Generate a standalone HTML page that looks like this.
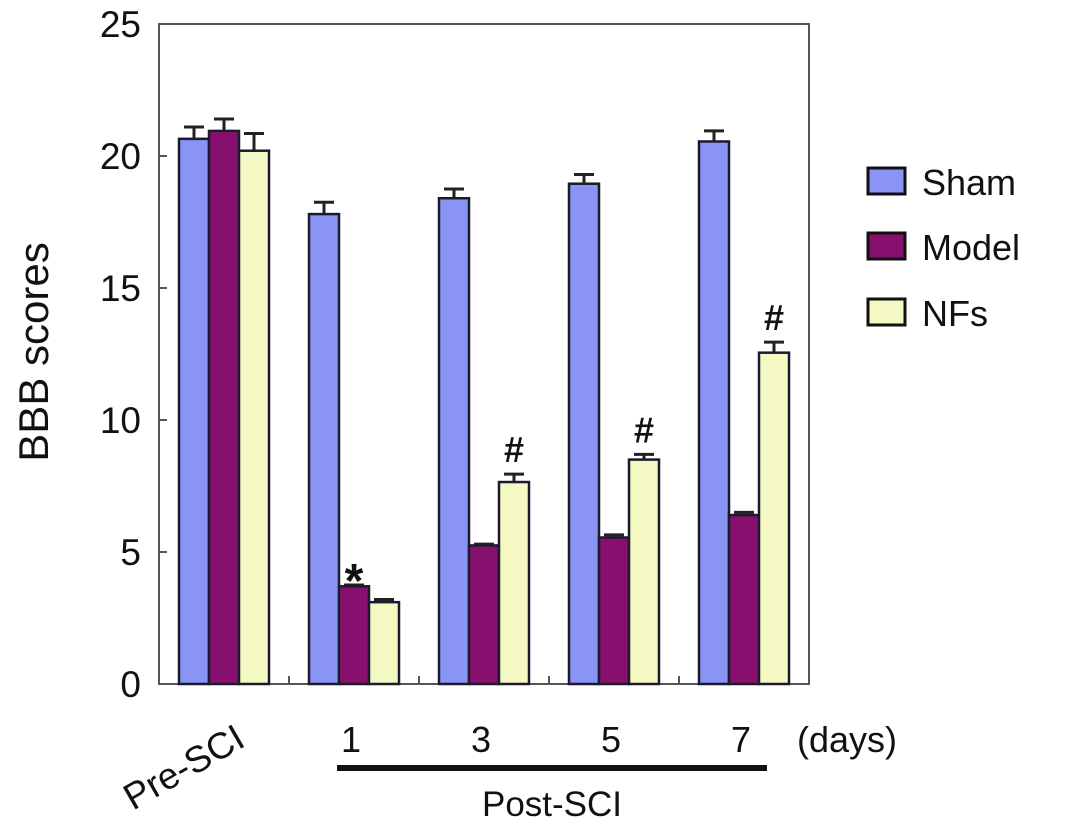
<!DOCTYPE html>
<html><head><meta charset="utf-8"><style>
html,body{margin:0;background:#fff;overflow:hidden;width:1087px;height:828px;}
svg text{font-family:"Liberation Sans",Arial,sans-serif;fill:#111;}
</style></head><body>
<svg id="chart" width="1087" height="828" style="position:absolute;left:0;top:0"></svg>
<script>
const categories=["Pre-SCI","1","3","5","7"];
const shamVals=[20.65,17.8,18.4,18.95,20.55];
const shamErr=[0.45,0.45,0.35,0.35,0.4];
const modelVals=[20.95,3.7,5.25,5.55,6.4];
const modelErr=[0.45,0.05,0.05,0.1,0.1];
const nfVals=[20.2,3.1,7.65,8.5,12.55];
const nfErr=[0.65,0.1,0.3,0.2,0.4];
const yTicks=[0,5,10,15,20,25];
const marks=["","*","#","#","#"];
const markSeries=[null,1,2,2,2];

const svg=document.getElementById('chart');
const NS='http://www.w3.org/2000/svg';
const L=159,R=809,T=24,B=684,ymax=25;
const y=v=>B-(B-T)*v/ymax;
const gw=(R-L)/categories.length;
const bw=30;
const xBar=(g,s)=>L+gw*g+20+bw*s;
function el(tag,attrs,parent){const e=document.createElementNS(NS,tag);for(const k in attrs)e.setAttribute(k,attrs[k]);(parent||svg).appendChild(e);return e;}

let a=el('path',{d:`M${L},${T} H${R} V${B} H${L} Z`,fill:'none',stroke:'#555','stroke-width':2});


yTicks.forEach(t=>{
  const tk=el('line',{x1:L,x2:L+8,y1:y(t),y2:y(t),stroke:'#555','stroke-width':2});
  
  
  const tx=el('text',{x:141,y:y(t)+13,'text-anchor':'end','font-size':37});
  tx.textContent=t;
  
  
});
for(let g=1;g<categories.length;g++){
  const tk=el('line',{x1:L+gw*g,x2:L+gw*g,y1:B,y2:B-8,stroke:'#555','stroke-width':2});
  
  
}
const series=[[shamVals,shamErr,'#8a94f5','sham'],[modelVals,modelErr,'#87106f','model'],[nfVals,nfErr,'#f4f8c2','nfs']];
categories.forEach((c,g)=>{
  series.forEach(([vals,errs,col,nm],s)=>{
    const x0=xBar(g,s),v=vals[g],e=errs[g];
    const ex=x0+bw/2;
    const eb=el('path',{d:`M${ex},${y(v)} V${y(v+e)} M${ex-10},${y(v+e)} H${ex+10}`,stroke:'#222','stroke-width':3,fill:'none'});
    
    
    const r=el('rect',{x:x0,y:y(v),width:bw,height:B-y(v),fill:col,stroke:'#1b1b2e','stroke-width':2.5});
    
    
  });
  if(marks[g]){
    const s=markSeries[g];const vals=series[s][0],errs=series[s][1];
    const m=el('text',{x:xBar(g,s)+bw/2,y:y(vals[g]+errs[g])-(marks[g]=='*'?-12:12),'text-anchor':'middle','font-size':marks[g]=='*'?48:36,'font-weight':'bold'});
    m.textContent=marks[g];
    
    
  }
  if(g>0){
    const t=el('text',{x:L+gw*(g+0.5)-3,y:752,'text-anchor':'middle','font-size':36});
    t.textContent=c;
    
    
  }
});
</script>
<svg width="1087" height="828" style="position:absolute;left:0;top:0">
<text x="190" y="778" font-size="37" text-anchor="middle" transform="rotate(-30 190 778)">Pre-SCI</text>
<text x="797" y="752" font-size="36">(days)</text>
<line x1="337" x2="767" y1="768" y2="768" stroke="#111" stroke-width="6"/>
<text x="552" y="816" font-size="35" text-anchor="middle">Post-SCI</text>
<text x="48" y="352" font-size="42" text-anchor="middle" transform="rotate(-90 48 352)">BBB scores</text>
<g font-size="36">
<rect x="868" y="168" width="37" height="26" fill="#8a94f5" stroke="#111" stroke-width="3"/>
<text x="922" y="195">Sham</text>
<rect x="868" y="233" width="37" height="26" fill="#87106f" stroke="#111" stroke-width="3"/>
<text x="922" y="260">Model</text>
<rect x="868" y="299" width="37" height="26" fill="#f4f8c2" stroke="#111" stroke-width="3"/>
<text x="922" y="326">NFs</text>
</g>
</svg>
</body></html>
